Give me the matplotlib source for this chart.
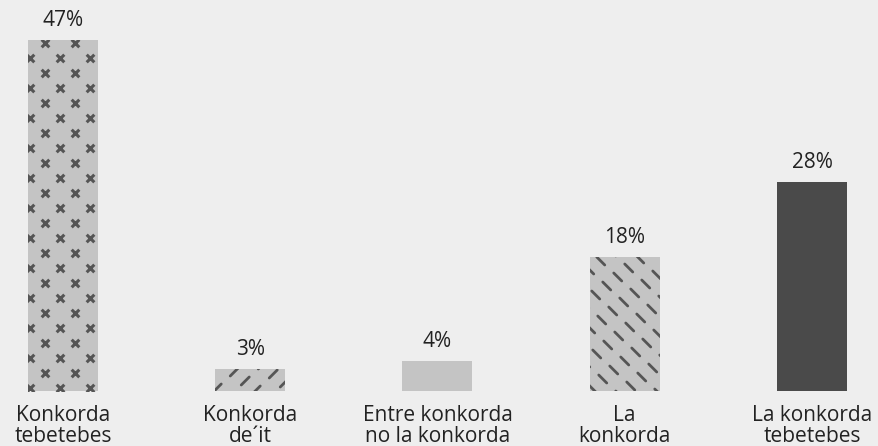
import numpy as np
import matplotlib
matplotlib.use('Agg')
import matplotlib.pyplot as plt
from matplotlib.collections import LineCollection

categories = ['Konkorda\ntebetebes', 'Konkorda\nde\u00b4it', 'Entre konkorda\nno la konkorda',
              'La\nkonkorda', 'La konkorda\ntebetebes']
values = [47, 3, 4, 18, 28]
value_labels = ['47%', '3%', '4%', '18%', '28%']
patterns = ['cross', 'slash', None, 'backslash', None]
colors = ['#c4c4c4', '#c4c4c4', '#c4c4c4', '#c4c4c4', '#4a4a4a']

bg = '#eeeeee'
ink = '#555555'
txt = '#222222'
plt.rcParams['font.family'] = ['Open Sans', 'DejaVu Sans']

W, H = 879, 446
fig = plt.figure(figsize=(W / 100, H / 100), dpi=100, facecolor=bg)
base_px = 55
ax = fig.add_axes([0, base_px / H, 1, (H - base_px) / H], facecolor=bg)

px_x = 187.25          # pixels per category step
px_y = 7.47            # pixels per percent
x0 = 63 / px_x
ax.set_xlim(-x0, -x0 + W / px_x)
ax.set_ylim(0, (H - base_px) / px_y)

xs = np.arange(len(categories))
bw = 70 / px_x
bars = ax.bar(xs, values, width=bw, color=colors, zorder=2)

for b, pat in zip(bars, patterns):
    if pat is None:
        continue
    xl, h = b.get_x(), b.get_height()
    # pattern lattice in pixel space, relative to the bar's bottom-left corner
    if pat == 'cross':
        a, c = np.array([15, 15]), np.array([15, -15])
    elif pat == 'backslash':
        a, c = np.array([11, 9]), np.array([17, -16])
    else:
        a, c = np.array([11, -9]), np.array([17, 16])
    pts = []
    for i in range(-40, 40):
        for j in range(-40, 40):
            p = i * a + j * c + np.array([2, 3])
            if -10 <= p[0] <= 80 and -10 <= p[1] <= h * px_y + 10:
                pts.append(p)
    pts = np.array(pts, dtype=float)
    px = xl + pts[:, 0] / px_x
    py = pts[:, 1] / px_y
    if pat == 'cross':
        sc = ax.scatter(px, py, marker='x', s=30, linewidths=2.2, color=ink, zorder=3)
        sc.set_clip_path(b)
    else:
        d = np.array([4, -4]) if pat == 'backslash' else np.array([4, 4])
        segs = [[(x - d[0] / px_x, y - d[1] / px_y), (x + d[0] / px_x, y + d[1] / px_y)]
                for x, y in zip(px, py)]
        lc = LineCollection(segs, colors=ink, linewidths=2.0, capstyle='round', zorder=3)
        ax.add_collection(lc)
        lc.set_clip_path(b)

for x, v, lab in zip(xs, values, value_labels):
    ax.text(x, v + 9 / px_y, lab, ha='center', va='bottom', fontsize=15, color=txt)

ax.set_xticks(xs)
ax.set_xticklabels(categories, fontsize=15, color=txt, linespacing=1.0)
ax.tick_params(axis='x', length=0, pad=10)
ax.set_yticks([])
for s in ax.spines.values():
    s.set_visible(False)

fig.savefig('out.png', dpi=100, facecolor=bg)
